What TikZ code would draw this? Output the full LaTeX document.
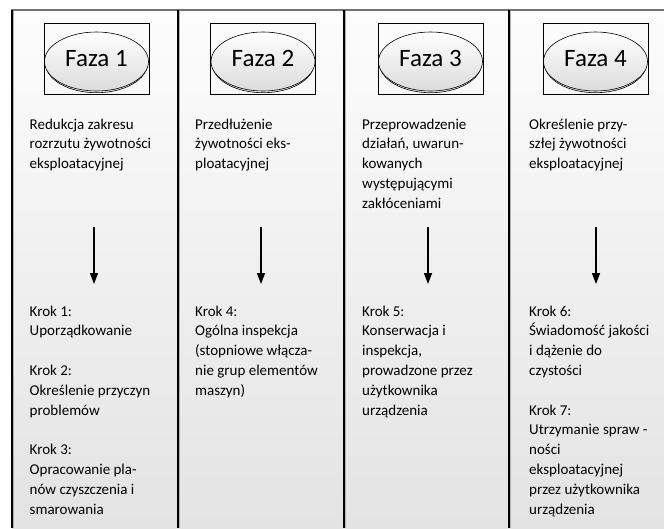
\documentclass[tikz,border=0pt]{standalone}
\usepackage{fontspec}
\setmainfont{Carlito}
\usetikzlibrary{positioning}
\usetikzlibrary{arrows.meta}
\usetikzlibrary{backgrounds}
\usetikzlibrary{calc}
\usetikzlibrary{shapes.geometric}

\tikzset{
  phasebox/.style={draw=black, line width=0.6pt, rectangle, minimum width=105pt, minimum height=71pt, inner sep=0pt, font=\fontsize{25}{30}\selectfont},
  phaseoval/.style={draw=black, line width=0.6pt, ellipse, minimum width=104pt, minimum height=59pt, inner sep=0pt, top color=white, bottom color=black!14},
  phaseshadow/.style={draw=black, line width=0.6pt, ellipse, minimum width=102pt, minimum height=59pt, inner sep=0pt, fill=black!8},
  lane/.style={draw=black, line width=1.5pt},
  laneshadow/.style={draw=black!30, line width=1pt},
  info/.style={anchor=north west, align=left, inner sep=0pt, font=\fontsize{15}{19.8}\selectfont},
  flow/.style={-{Triangle[length=11pt, width=8pt]}, line width=1.3pt}
}

\begin{document}
\begin{tikzpicture}[x=1pt, y=-1pt]

  \useasboundingbox (0, 0) rectangle (664, 528);

  % background shading
  \begin{scope}[on background layer]
    \shade [top color=black!1, bottom color=black!11] (12, 10) rectangle (664, 528);
  \end{scope}

  % lanes
  \draw [draw=black!55, line width=2pt] (11, 10) -- (664, 10);
  \draw [laneshadow] (13.5, 11) -- (13.5, 528);
  \draw [laneshadow] (179.5, 11) -- (179.5, 528);
  \draw [laneshadow] (345.5, 11) -- (345.5, 528);
  \draw [laneshadow] (510.5, 11) -- (510.5, 528);
  \draw [lane] (12, 10) -- (12, 528);
  \draw [lane] (178, 10) -- (178, 528);
  \draw [lane] (344, 10) -- (344, 528);
  \draw [lane] (509, 10) -- (509, 528);

  % phase ovals
  \node at (96.5, 63.2) (shadow1) [phaseshadow] {};
  \node at (96.5, 61.5) (oval1) [phaseoval] {};
  \node at (96.5, 58.5) (faza1) [phasebox] {Faza 1};

  \node at (263, 63.2) (shadow2) [phaseshadow] {};
  \node at (263, 61.5) (oval2) [phaseoval] {};
  \node at (263, 58.5) (faza2) [phasebox] {Faza 2};

  \node at (430.5, 63.2) (shadow3) [phaseshadow] {};
  \node at (430.5, 61.5) (oval3) [phaseoval] {};
  \node at (430.5, 58.5) (faza3) [phasebox] {Faza 3};

  \node at (595.5, 63.2) (shadow4) [phaseshadow] {};
  \node at (595.5, 61.5) (oval4) [phaseoval] {};
  \node at (595.5, 58.5) (faza4) [phasebox] {Faza 4};

  % phase goals
  \node at (29.5, 118.5) (goal1) [info] {Redukcja zakresu\\rozrzutu żywotności\\eksploatacyjnej};
  \node at (195, 118.5) (goal2) [info] {Przedłużenie\\żywotności eks-\\ploatacyjnej};
  \node at (362, 118.5) (goal3) [info] {Przeprowadzenie\\działań, uwarun-\\kowanych\\występującymi\\zakłóceniami};
  \node at (529, 118.5) (goal4) [info] {Określenie przy-\\szłej żywotności\\eksploatacyjnej};

  % steps
  \node at (29.5, 305.5) (steps1) [info] {Krok 1:\\Uporządkowanie\\[19.8pt]Krok 2:\\Określenie przyczyn\\problemów\\[19.8pt]Krok 3:\\Opracowanie pla-\\nów czyszczenia i\\smarowania};
  \node at (195, 305.5) (steps2) [info] {Krok 4:\\Ogólna inspekcja\\(stopniowe włącza-\\nie grup elementów\\maszyn)};
  \node at (362, 305.5) (steps3) [info] {Krok 5:\\Konserwacja i\\inspekcja,\\prowadzone przez\\użytkownika\\urządzenia};
  \node at (529, 305.5) (steps4) [info] {Krok 6:\\Świadomość jakości\\i dążenie do\\czystości\\[19.8pt]Krok 7:\\Utrzymanie spraw -\\ności\\eksploatacyjnej\\przez użytkownika\\urządzenia};

  % arrows
  \coordinate (a1) at (94, 227);
  \coordinate (b1) at (94, 284);
  \coordinate (a2) at (261, 227);
  \coordinate (b2) at (261, 284);
  \coordinate (a3) at (428, 227);
  \coordinate (b3) at (428, 284);
  \coordinate (a4) at (596, 227);
  \coordinate (b4) at (596, 284);
  \draw [flow] (a1) -- (b1);
  \draw [flow] (a2) -- (b2);
  \draw [flow] (a3) -- (b3);
  \draw [flow] (a4) -- (b4);

\end{tikzpicture}
\end{document}
